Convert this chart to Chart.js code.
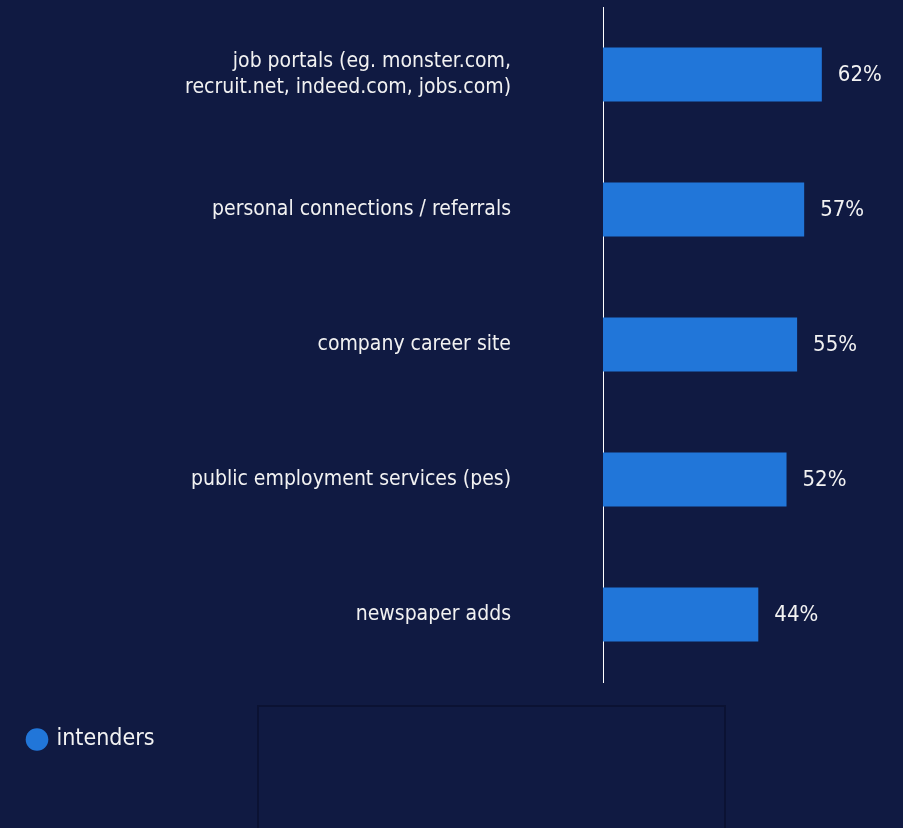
<!DOCTYPE html>
<html>
<head>
<meta charset="utf-8">
<script src="https://cdn.jsdelivr.net/npm/chart.js@4/dist/chart.umd.min.js"></script>
<style>
  html, body { margin: 0; padding: 0; background: #101a42; overflow: hidden; }
  #wrap { position: relative; width: 903px; height: 828px; }
  #box { position: absolute; left: 257px; top: 705px; width: 465px; height: 130px; border: 2px solid #0b1233; }
</style>
</head>
<body>
<div id="wrap">
  <canvas id="c" width="903" height="828"></canvas>
  <div id="box"></div>
</div>
<script>
// categories + values (percent)
const categories = [
  ['job portals (eg. monster.com,', 'recruit.net, indeed.com, jobs.com)'],
  'personal connections / referrals',
  'company career site',
  'public employment services (pes)',
  'newspaper adds'
];
const intenders = [62, 57, 55, 52, 44];
const seriesName = 'intenders';

const barColor = '#2176d9';
const textColor = '#f2f2f2';
const fontFamily = '"DejaVu Sans Condensed", "DejaVu Sans", sans-serif';

// write "62%" etc. after the end of each bar
const valueLabels = {
  id: 'valueLabels',
  afterDatasetsDraw(chart) {
    const ctx = chart.ctx;
    const meta = chart.getDatasetMeta(0);
    ctx.save();
    ctx.font = '22px ' + fontFamily;
    ctx.fillStyle = textColor;
    ctx.textAlign = 'left';
    ctx.textBaseline = 'middle';
    meta.data.forEach((bar, i) => {
      ctx.fillText(intenders[i] + '%', bar.x + 16, bar.y + 1);
    });
    ctx.restore();
  }
};

new Chart(document.getElementById('c'), {
  type: 'bar',
  data: {
    labels: categories,
    datasets: [{
      label: seriesName,
      data: intenders,
      backgroundColor: barColor,
      barPercentage: 0.4,
      categoryPercentage: 1
    }]
  },
  options: {
    indexAxis: 'y',
    responsive: false,
    animation: false,
    layout: { padding: { top: 7, left: 19, right: 0, bottom: 67 } },
    scales: {
      x: {
        min: 0,
        max: 85,
        grid: { display: false, drawTicks: false },
        border: { display: false },
        ticks: { display: false },
        afterFit(scale) { scale.height = 36; }
      },
      y: {
        grid: { display: false, drawTicks: false },
        border: { display: true, color: '#ffffff', width: 1 },
        ticks: {
          color: textColor,
          padding: 92,
          font: { family: fontFamily, size: 21, lineHeight: 26 / 21 }
        },
        afterFit(scale) {
          scale.width = 603 - 19;
          scale.paddingTop = 0;
          scale.paddingBottom = 0;
        }
      }
    },
    plugins: {
      tooltip: { enabled: false },
      legend: {
        position: 'bottom',
        align: 'start',
        labels: {
          usePointStyle: true,
          pointStyle: 'circle',
          boxWidth: 16,
          boxHeight: 16,
          padding: 10,
          color: textColor,
          font: { family: fontFamily, size: 23 }
        }
      }
    }
  },
  plugins: [valueLabels]
});
</script>
</body>
</html>
